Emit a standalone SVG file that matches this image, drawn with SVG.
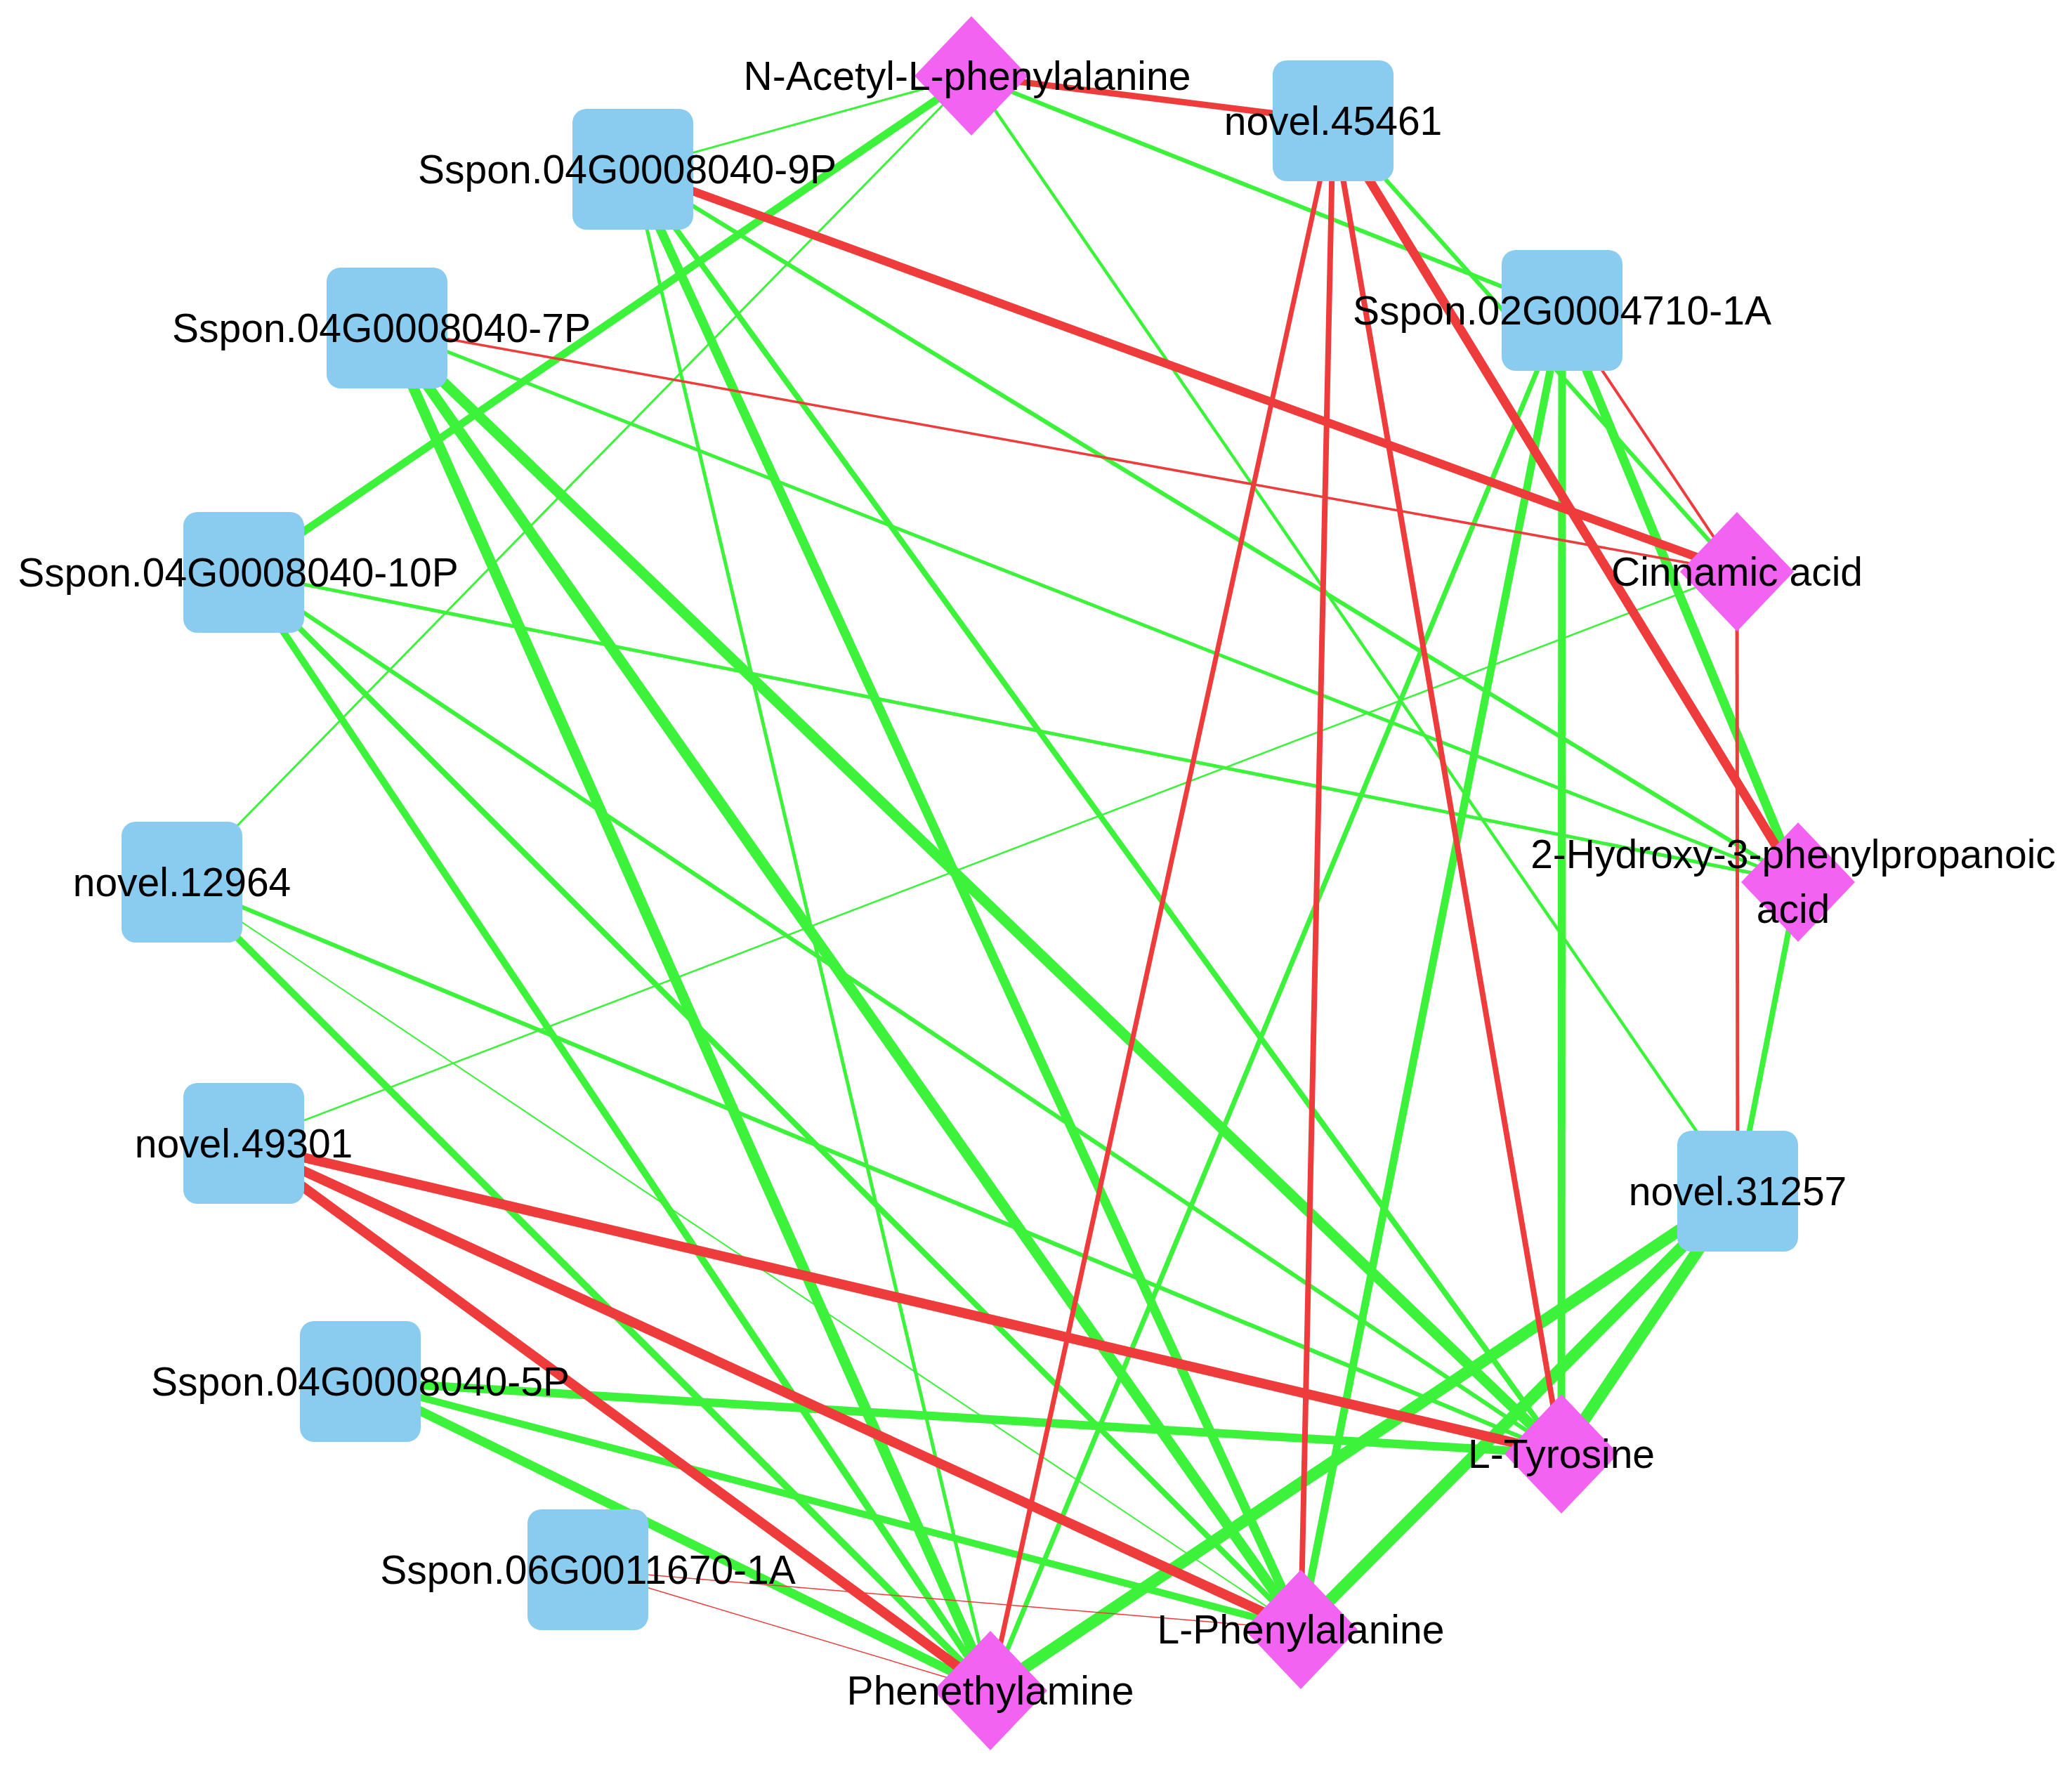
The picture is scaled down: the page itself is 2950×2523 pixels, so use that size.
<svg xmlns="http://www.w3.org/2000/svg" xmlns:xlink="http://www.w3.org/1999/xlink" width="2950" height="2523" viewBox="0 0 2950 2523">
<style>
.g{stroke:#3DF23A;fill:none;stroke-linecap:butt}
.r{stroke:#EE3B3B;fill:none;stroke-linecap:butt}
.box{fill:#89CCF0}
.dia{fill:#F263F2}
.lbl{font-family:"Liberation Sans",Arial,sans-serif;font-size:57px;fill:#000;text-anchor:middle;dominant-baseline:central}
</style>
<defs>
<rect id="box" x="-86" y="-86" width="172" height="172" rx="20" ry="20"/>
<path id="dia" d="M0,-85 L81,0 L0,85 L-81,0 Z"/>
</defs>
<rect width="2950" height="2523" fill="#FFFFFF"/>
<g id="edges">
<!-- green edges -->
<line class="g" x1="1383" y1="108" x2="901" y2="241" stroke-width="3"/>
<line class="g" x1="1383" y1="108" x2="347" y2="815" stroke-width="11"/>
<line class="g" x1="1383" y1="108" x2="259" y2="1256" stroke-width="3"/>
<line class="g" x1="1383" y1="108" x2="2224" y2="442" stroke-width="6"/>
<line class="g" x1="1383" y1="108" x2="2474" y2="1696" stroke-width="4.5"/>
<line class="g" x1="1898" y1="172" x2="2473" y2="814" stroke-width="6"/>
<line class="g" x1="2224" y1="442" x2="2560" y2="1256" stroke-width="13"/>
<line class="g" x1="2224" y1="442" x2="2223" y2="2070" stroke-width="11"/>
<line class="g" x1="2224" y1="442" x2="1852" y2="2320" stroke-width="11"/>
<line class="g" x1="2224" y1="442" x2="1410" y2="2407" stroke-width="7"/>
<line class="g" x1="2473" y1="814" x2="347" y2="1628" stroke-width="2.5"/>
<line class="g" x1="2560" y1="1256" x2="901" y2="241" stroke-width="6"/>
<line class="g" x1="2560" y1="1256" x2="551" y2="467" stroke-width="5"/>
<line class="g" x1="2560" y1="1256" x2="347" y2="815" stroke-width="5"/>
<line class="g" x1="2560" y1="1256" x2="2474" y2="1696" stroke-width="8"/>
<line class="g" x1="2474" y1="1696" x2="2223" y2="2070" stroke-width="17"/>
<line class="g" x1="2474" y1="1696" x2="1852" y2="2320" stroke-width="17"/>
<line class="g" x1="2474" y1="1696" x2="1410" y2="2407" stroke-width="17"/>
<line class="g" x1="901" y1="241" x2="1410" y2="2407" stroke-width="5"/>
<line class="g" x1="901" y1="241" x2="1852" y2="2320" stroke-width="13"/>
<line class="g" x1="901" y1="241" x2="2223" y2="2070" stroke-width="8"/>
<line class="g" x1="551" y1="467" x2="1410" y2="2407" stroke-width="15"/>
<line class="g" x1="551" y1="467" x2="1852" y2="2320" stroke-width="15"/>
<line class="g" x1="551" y1="467" x2="2223" y2="2070" stroke-width="15"/>
<line class="g" x1="347" y1="815" x2="2223" y2="2070" stroke-width="6"/>
<line class="g" x1="347" y1="815" x2="1852" y2="2320" stroke-width="8"/>
<line class="g" x1="347" y1="815" x2="1410" y2="2407" stroke-width="10"/>
<line class="g" x1="259" y1="1256" x2="2223" y2="2070" stroke-width="6"/>
<line class="g" x1="259" y1="1256" x2="1852" y2="2320" stroke-width="2"/>
<line class="g" x1="259" y1="1256" x2="1410" y2="2407" stroke-width="10"/>
<line class="g" x1="513" y1="1967" x2="2223" y2="2070" stroke-width="12"/>
<line class="g" x1="513" y1="1967" x2="1852" y2="2320" stroke-width="10"/>
<line class="g" x1="513" y1="1967" x2="1410" y2="2407" stroke-width="13"/>
<!-- red edges -->
<line class="r" x1="1383" y1="108" x2="1898" y2="172" stroke-width="9"/>
<line class="r" x1="1898" y1="172" x2="2560" y2="1256" stroke-width="13"/>
<line class="r" x1="1898" y1="172" x2="2223" y2="2070" stroke-width="8"/>
<line class="r" x1="1898" y1="172" x2="1852" y2="2320" stroke-width="8"/>
<line class="r" x1="1898" y1="172" x2="1410" y2="2407" stroke-width="7"/>
<line class="r" x1="2224" y1="442" x2="2473" y2="814" stroke-width="4"/>
<line class="r" x1="2473" y1="814" x2="901" y2="241" stroke-width="12"/>
<line class="r" x1="2473" y1="814" x2="551" y2="467" stroke-width="3.5"/>
<line class="r" x1="2473" y1="814" x2="2474" y2="1696" stroke-width="5"/>
<line class="r" x1="347" y1="1628" x2="2223" y2="2070" stroke-width="14"/>
<line class="r" x1="347" y1="1628" x2="1852" y2="2320" stroke-width="14"/>
<line class="r" x1="347" y1="1628" x2="1410" y2="2407" stroke-width="14"/>
<line class="r" x1="837" y1="2235" x2="1852" y2="2320" stroke-width="1.5"/>
<line class="r" x1="837" y1="2235" x2="1410" y2="2407" stroke-width="1.5"/>
</g>
<g id="node-G9P" transform="translate(901,241)"><use xlink:href="#box" class="box"/><text class="lbl" x="-8" y="0">Sspon.04G0008040-9P</text></g>
<g id="node-G7P" transform="translate(551,467)"><use xlink:href="#box" class="box"/><text class="lbl" x="-8" y="0">Sspon.04G0008040-7P</text></g>
<g id="node-G10P" transform="translate(347,815)"><use xlink:href="#box" class="box"/><text class="lbl" x="-8" y="0">Sspon.04G0008040-10P</text></g>
<g id="node-N12964" transform="translate(259,1256)"><use xlink:href="#box" class="box"/><text class="lbl" x="0" y="0">novel.12964</text></g>
<g id="node-N49301" transform="translate(347,1628)"><use xlink:href="#box" class="box"/><text class="lbl" x="0" y="0">novel.49301</text></g>
<g id="node-G5P" transform="translate(513,1967)"><use xlink:href="#box" class="box"/><text class="lbl" x="0" y="0">Sspon.04G0008040-5P</text></g>
<g id="node-G06" transform="translate(837,2235)"><use xlink:href="#box" class="box"/><text class="lbl" x="0" y="0">Sspon.06G0011670-1A</text></g>
<g id="node-N45461" transform="translate(1898,172)"><use xlink:href="#box" class="box"/><text class="lbl" x="0" y="0">novel.45461</text></g>
<g id="node-G02" transform="translate(2224,442)"><use xlink:href="#box" class="box"/><text class="lbl" x="0" y="0">Sspon.02G0004710-1A</text></g>
<g id="node-N31257" transform="translate(2474,1696)"><use xlink:href="#box" class="box"/><text class="lbl" x="0" y="0">novel.31257</text></g>
<g id="node-NAc" transform="translate(1383,108)"><use xlink:href="#dia" class="dia"/><text class="lbl" x="-6" y="0">N-Acetyl-L-phenylalanine</text></g>
<g id="node-Cin" transform="translate(2473,814)"><use xlink:href="#dia" class="dia"/><text class="lbl" x="0" y="0">Cinnamic acid</text></g>
<g id="node-HPP" transform="translate(2560,1256)"><use xlink:href="#dia" class="dia"/><text class="lbl" x="-7" y="-40">2-Hydroxy-3-phenylpropanoic</text><text class="lbl" x="-7" y="38">acid</text></g>
<g id="node-Tyr" transform="translate(2223,2070)"><use xlink:href="#dia" class="dia"/><text class="lbl" x="0" y="0">L-Tyrosine</text></g>
<g id="node-Phe" transform="translate(1852,2320)"><use xlink:href="#dia" class="dia"/><text class="lbl" x="0" y="0">L-Phenylalanine</text></g>
<g id="node-PEA" transform="translate(1410,2407)"><use xlink:href="#dia" class="dia"/><text class="lbl" x="0" y="0">Phenethylamine</text></g>
</svg>
